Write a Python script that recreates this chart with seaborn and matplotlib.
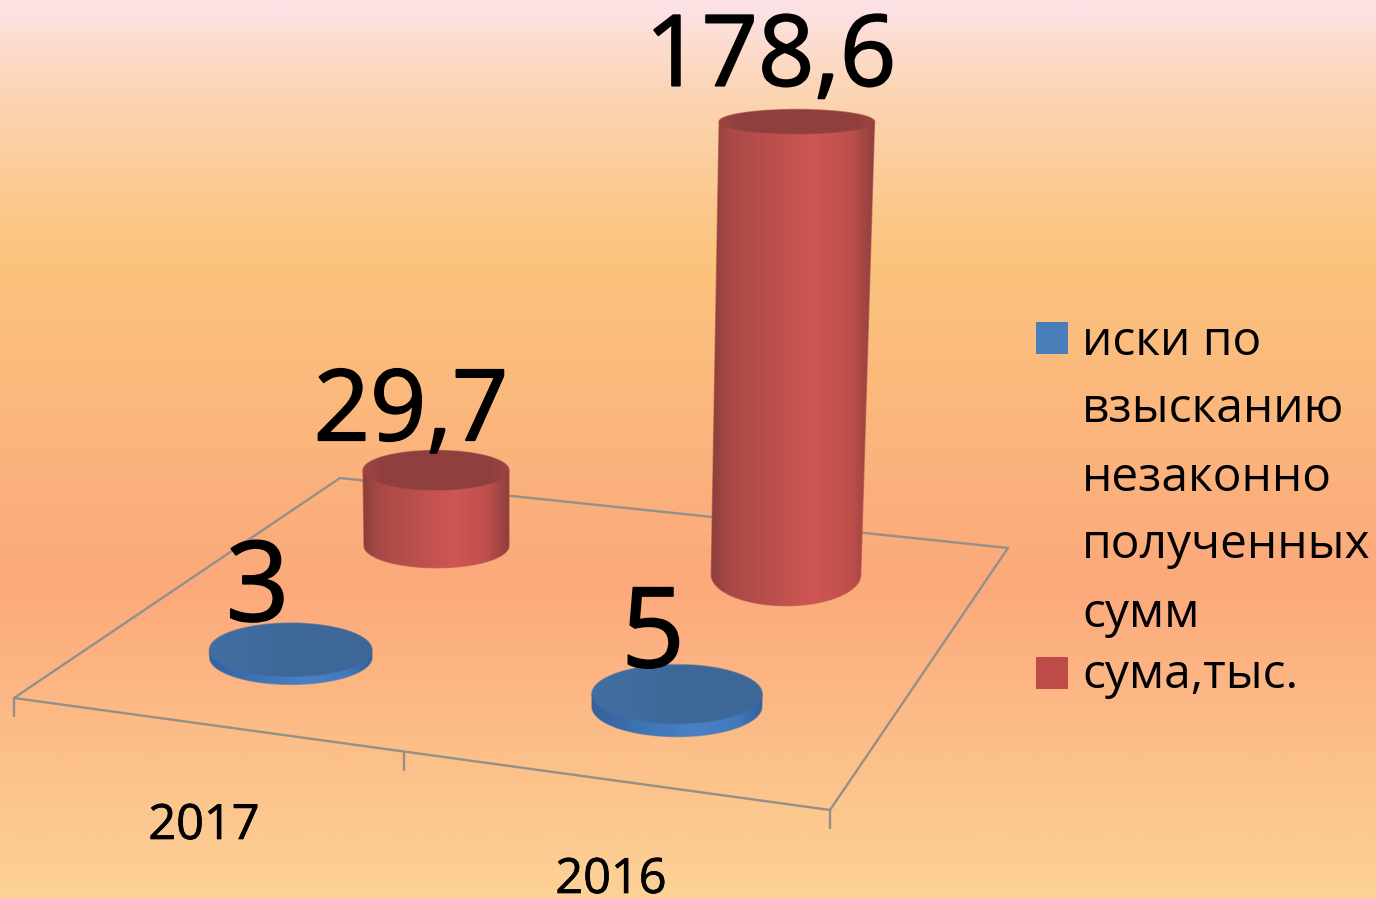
import numpy as np
import pandas as pd
import matplotlib
matplotlib.use("Agg")
import matplotlib.pyplot as plt
from matplotlib.colors import LinearSegmentedColormap
from matplotlib.path import Path
from matplotlib.patches import PathPatch, Ellipse
import matplotlib.patheffects as pe
import seaborn as sns

# data
years = ["2017", "2016"]
series_names = ["иски по взысканию незаконно полученных сумм", "сума,тыс."]
iski = [3, 5]
suma = [29.7, 178.6]
legend_lines = [["иски по", "взысканию", "незаконно", "полученных", "сумм"], ["сума,тыс."]]

# layout (pixels of the 1376x898 canvas)
FLOOR = np.array([[14, 698], [830, 810], [1008, 548], [340, 478]], dtype=float)  # FL FR BR BL
U_POS = [0.25, 0.75]
V_POS = {0: 0.25, 1: 0.75}
BASE_NUDGE = {(0, 0): (1, 1), (0, 1): (1, 1), (1, 0): (1, 3), (1, 1): (1, -7)}
NADIR = np.array([512.0, 12000.0])
K = 0.000222
MAJOR = 0.078
MINOR_BASE = {(0, 0): 27, (0, 1): 30, (1, 0): 22, (1, 1): 31}
MINOR_SHRINK = 0.0034
LABEL_NUDGE = {(0, 0): (-33, -29), (0, 1): (-24, -27), (1, 0): (-25, -30), (1, 1): (-26, -36)}
LABEL_SIZE = {(0, 0): 80, (0, 1): 80, (1, 0): 71, (1, 1): 71}
GREY = "#949089"

sides = [[(0, "#35619a"), (0.3, "#3f74b4"), (0.6, "#4a80c6"), (0.85, "#4279bb"), (1, "#335f96")],
         [(0, "#8a3f3c"), (0.1, "#a84846"), (0.35, "#ba4f4c"), (0.62, "#cf5654"), (0.85, "#bf4f4c"), (1, "#8e403d")]]
tops = [[(0, "#426fa3"), (0.5, "#3d6898"), (1, "#3d6796")],
        [(0, "#9c4543"), (0.15, "#8f3f3d"), (0.85, "#8f3f3d"), (1, "#9c4342")]]
swatches = ["#4a7ebb", "#be4b48"]


def floor_matrix(corners):
    src = [(0, 0), (1, 0), (1, 1), (0, 1)]
    rows, rhs = [], []
    for (u, v), (x, y) in zip(src, corners):
        rows.append([u, v, 1, 0, 0, 0, -u * x, -v * x])
        rows.append([0, 0, 0, u, v, 1, -u * y, -v * y])
        rhs += [x, y]
    h = np.linalg.solve(np.array(rows), np.array(rhs))
    return np.append(h, 1).reshape(3, 3)


H = floor_matrix(FLOOR)


def floor_xy(u, v):
    p = H @ np.array([u, v, 1.0])
    return p[:2] / p[2]


def gradient_fill(ax, path, colors, box, z):
    cmap = LinearSegmentedColormap.from_list("g", colors)
    im = ax.imshow(np.linspace(0, 1, 256)[None, :], cmap=cmap, aspect="auto",
                   extent=box, zorder=z, interpolation="bilinear")
    im.set_clip_path(PathPatch(path, transform=ax.transData))


def ellipse_path(c, a, b):
    t = np.linspace(0, 2 * np.pi, 120)
    return Path(np.c_[c[0] + a * np.cos(t), c[1] + b * np.sin(t)])


def draw_cylinder(ax, s, y, value, z):
    base = floor_xy(U_POS[y], V_POS[s]) + np.array(BASE_NUDGE[(s, y)])
    grow = 1 + K * value
    top = NADIR + (base - NADIR) * grow
    a0 = 72.5 + MAJOR * (base[1] - 546)
    a1 = a0 * grow
    b0 = MINOR_BASE[(s, y)]
    b1 = b0 * (1 - MINOR_SHRINK * value)

    t = np.linspace(np.pi, 0, 60)
    arc = np.c_[base[0] + a0 * np.cos(t), base[1] + b0 * np.sin(t)]
    body = Path(np.vstack([arc, [top[0] + a1, top[1]], [top[0] - a1, top[1]], arc[0]]))
    left, right = min(base[0] - a0, top[0] - a1), max(base[0] + a0, top[0] + a1)
    box = (left, right, base[1] + b0 + 2, top[1] - 2)
    ax.add_patch(PathPatch(body, fc="none", ec=sides[s][1][1], lw=1, alpha=0.6, zorder=z))
    gradient_fill(ax, body, sides[s], box, z + 0.1)

    cap = ellipse_path(top, a1, b1)
    ax.add_patch(Ellipse(top, 2 * a1, 2 * b1, fc="none", ec=tops[s][0][1], lw=1, alpha=0.6, zorder=z + 0.2))
    gradient_fill(ax, cap, tops[s], (top[0] - a1, top[0] + a1, top[1] + b1, top[1] - b1), z + 0.3)
    return top


sns.set_theme(style="white")
plt.rcParams["font.family"] = ["Open Sans", "DejaVu Sans"]

fig = plt.figure(figsize=(13.76, 8.98), dpi=100)
ax = fig.add_axes([0, 0, 1, 1])

bg = LinearSegmentedColormap.from_list("bg", [
    (0, "#fde3e8"), (0.1, "#fcd5b4"), (0.28, "#fbc47e"),
    (0.65, "#fca97b"), (0.88, "#fcc48c"), (1, "#fcd297")])
ax.imshow(np.linspace(0, 1, 512)[:, None], cmap=bg, aspect="auto",
          extent=(0, 1376, 898, 0), zorder=0)

# floor outline and the ticks on its front edge
outline = pd.DataFrame(np.vstack([FLOOR, FLOOR[:1]]), columns=["x", "y"])
sns.lineplot(data=outline, x="x", y="y", sort=False, estimator=None,
             color=GREY, lw=1.7, ax=ax, zorder=1)
for u in [0, 0.503, 1]:
    px, py = floor_xy(u, 0)
    sns.lineplot(x=[px, px], y=[py, py + 18], sort=False, estimator=None,
                 color=GREY, lw=1.7, ax=ax, zorder=1)

# cylinders, far ones first
values = [iski, suma]
order = sorted([(s, y) for s in range(2) for y in range(2)],
               key=lambda k: floor_xy(U_POS[k[1]], V_POS[k[0]])[1])
thick = [pe.withStroke(linewidth=1.3, foreground="black")]
for i, (s, y) in enumerate(order):
    top = draw_cylinder(ax, s, y, values[s][y], 2 + i)
    dx, dy = LABEL_NUDGE[(s, y)]
    ax.text(top[0] + dx, top[1] + dy, str(values[s][y]).replace(".", ","),
            fontsize=LABEL_SIZE[(s, y)], ha="center", va="baseline", color="black",
            zorder=10, path_effects=thick)

# category labels
tick_pos = [(204, 839), (611, 893)]
for year, (tx, ty) in zip(years, tick_pos):
    ax.text(tx, ty, year, fontsize=35, ha="center", va="baseline", color="black", zorder=10,
            path_effects=[pe.withStroke(linewidth=0.5, foreground="black")])

# legend
keys = pd.DataFrame({"x": [1052, 1052], "y": [338, 673], "name": series_names})
sns.scatterplot(data=keys, x="x", y="y", hue="name", palette=swatches, marker="s",
                s=510, linewidth=0, legend=False, ax=ax, zorder=10)
baselines = [[355, 422, 491, 558, 627], [688]]
for lines, ys in zip(legend_lines, baselines):
    for line, ly in zip(lines, ys):
        ax.text(1082, ly, line, fontsize=34.5, ha="left", va="baseline", color="black", zorder=10)

ax.set_xlim(0, 1376)
ax.set_ylim(898, 0)
ax.axis("off")
fig.savefig("out.png", dpi=100)
